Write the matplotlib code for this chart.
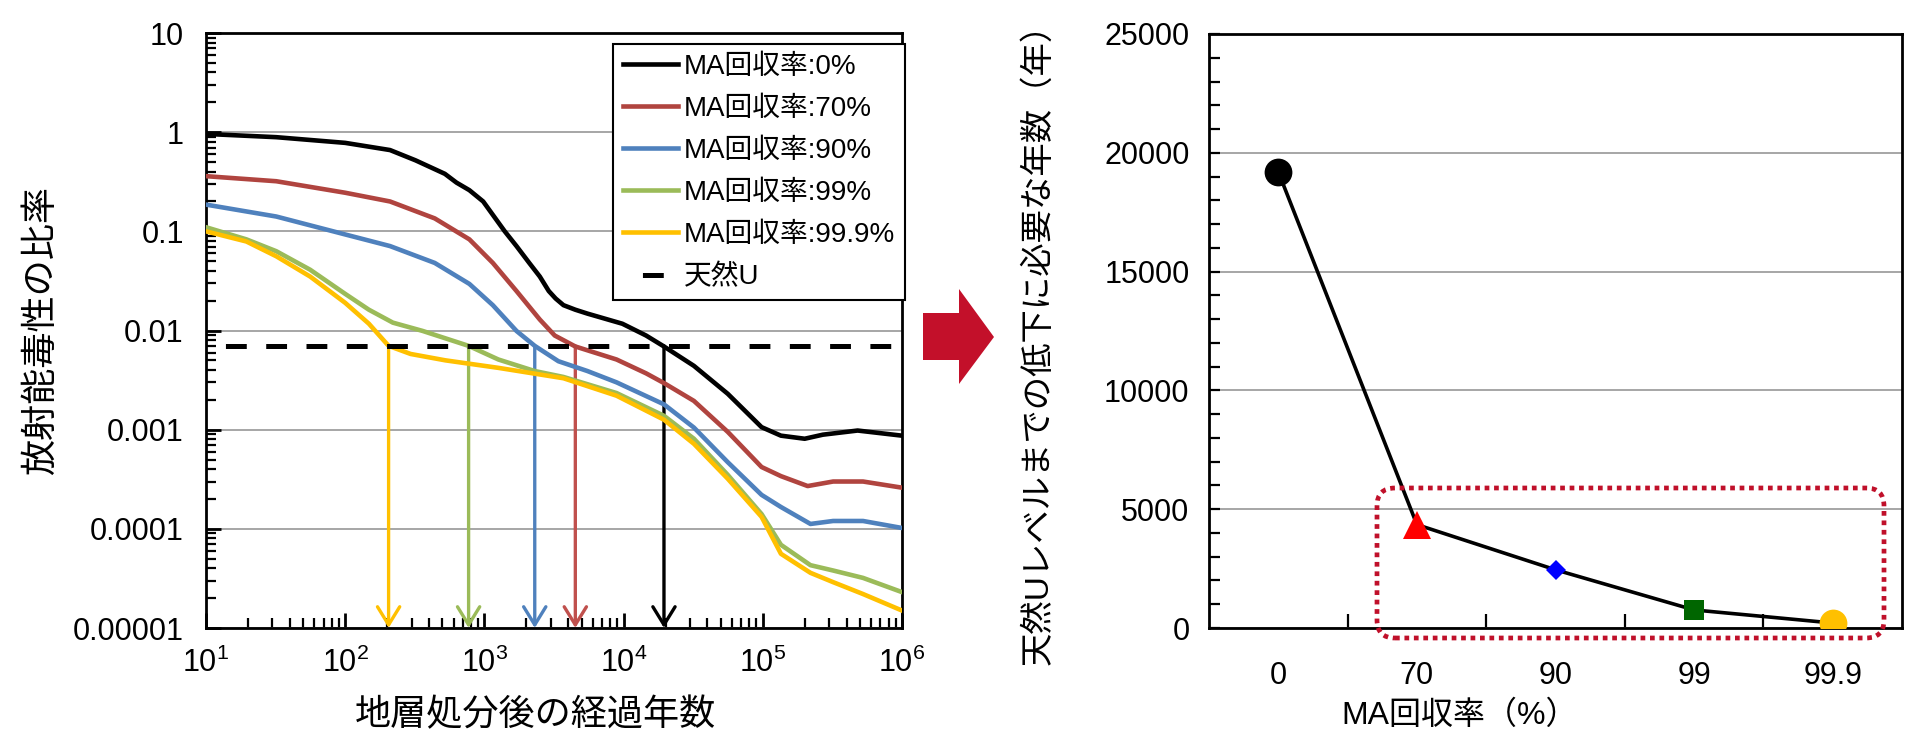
"""MA回収率ごとの放射能毒性の比率（左）と、天然Uレベルまでの年数（右）。"""
import matplotlib
matplotlib.use("Agg")
import matplotlib.pyplot as plt
from matplotlib.patches import Polygon, FancyBboxPatch
from matplotlib.transforms import IdentityTransform
from matplotlib.ticker import FixedLocator, MultipleLocator, LogLocator, NullFormatter

plt.rcParams["font.family"] = ["Liberation Sans", "Noto Sans CJK JP"]
plt.rcParams["mathtext.fontset"] = "custom"
plt.rcParams["mathtext.rm"] = "Liberation Sans"
plt.rcParams["mathtext.it"] = "Liberation Sans:italic"
plt.rcParams["lines.scale_dashes"] = False

# ---- 左: 放射能毒性の比率 (経過年数, 比率) ----
series_labels = ["MA回収率:0%", "MA回収率:70%", "MA回収率:90%", "MA回収率:99%", "MA回収率:99.9%"]
series_colors = ["#000000", "#B0443F", "#4F81BD", "#9BBB59", "#FFC000"]
arrow_colors = ["#000000", "#C0504D", "#4F81BD", "#9BBB59", "#FFC000"]

years_0 = [10, 32, 100, 210, 320, 520, 630, 780, 980, 1400, 1700, 2100, 2500, 2900, 3250,
           3700, 4500, 5500, 9800, 14500, 19500, 32000, 56000, 98000, 135000, 200000,
           270000, 480000, 1000000]
ratio_0 = [0.96, 0.89, 0.78, 0.66, 0.52, 0.38, 0.31, 0.26, 0.20, 0.10, 0.071, 0.048, 0.035,
           0.025, 0.021, 0.018, 0.0162, 0.0148, 0.0117, 0.0089, 0.0069, 0.0044, 0.0023,
           0.00106, 0.00087, 0.00081, 0.00089, 0.00098, 0.00087]

years_70 = [10, 32, 100, 210, 440, 780, 1150, 1700, 2500, 3200, 4500, 8900, 14500, 19500,
            32000, 56000, 98000, 135000, 210000, 320000, 525000, 1000000]
ratio_70 = [0.36, 0.32, 0.245, 0.20, 0.135, 0.083, 0.048, 0.025, 0.0129, 0.0089, 0.0069,
            0.0051, 0.0037, 0.00295, 0.00195, 0.00095, 0.00042, 0.00034, 0.00027, 0.0003,
            0.0003, 0.00026]

years_90 = [10, 32, 100, 210, 440, 780, 1150, 1700, 2300, 3400, 5500, 8900, 19500, 32000,
            56000, 98000, 135000, 220000, 320000, 525000, 1000000]
ratio_90 = [0.186, 0.141, 0.093, 0.071, 0.048, 0.0295, 0.018, 0.0099, 0.0070, 0.0049,
            0.0039, 0.0030, 0.0018, 0.00105, 0.00047, 0.00022, 0.000166, 0.000112,
            0.00012, 0.00012, 0.000102]

years_99 = [10, 19.5, 32, 56, 100, 148, 220, 360, 770, 1260, 2300, 3700, 8900, 19500, 32000,
            56000, 98000, 135000, 220000, 320000, 525000, 1000000]
ratio_99 = [0.11, 0.083, 0.063, 0.041, 0.0234, 0.0162, 0.012, 0.0099, 0.0070, 0.0051,
            0.0039, 0.0034, 0.00234, 0.00138, 0.00081, 0.00035, 0.000141, 0.000069,
            0.000043, 0.000038, 0.000032, 0.000023]

years_999 = [10, 19.5, 32, 56, 100, 148, 205, 295, 525, 1260, 3700, 8900, 19500, 32000,
             56000, 98000, 135000, 220000, 320000, 525000, 1000000]
ratio_999 = [0.10, 0.079, 0.056, 0.035, 0.019, 0.0117, 0.0070, 0.0058, 0.0050, 0.0042,
             0.0033, 0.0022, 0.00126, 0.00072, 0.00032, 0.000132, 0.000056, 0.000036,
             0.000029, 0.000022, 0.000015]

natural_u = 0.007
arrow_years = [19500, 4500, 2300, 770, 205]

# ---- 右: 天然Uレベルまでの低下に必要な年数 ----
recovery_labels = ["0", "70", "90", "99", "99.9"]
years_to_u = [19200, 4350, 2450, 760, 210]
marker_styles = ["o", "^", "D", "s", "o"]
marker_colors = ["#000000", "#FF0000", "#0000FF", "#006600", "#FFC000"]
marker_sizes = [20, 20, 10, 14, 20]

W, H = 1905, 736
fig = plt.figure(figsize=(W / 100, H / 100), dpi=100)


def fx(px):
    return px / W


def fy(py):
    return 1 - py / H


# ---------------- left chart ----------------
ax1 = fig.add_axes([fx(206), fy(628), fx(902 - 206), (628 - 33) / H])
ax1.set_xscale("log")
ax1.set_yscale("log")

all_years = [years_0, years_70, years_90, years_99, years_999]
all_ratio = [ratio_0, ratio_70, ratio_90, ratio_99, ratio_999]
for xs, ys, c, lab in zip(all_years, all_ratio, series_colors, series_labels):
    ax1.plot(xs, ys, color=c, lw=3.3, label=lab, solid_joinstyle="round", zorder=3)

ax1.plot([10, 1e6], [natural_u, natural_u], color="black", lw=3.6,
         linestyle=(15, (15, 14)), dash_capstyle="butt", label="天然U", zorder=4)

for xa, c in zip(arrow_years, arrow_colors):
    ax1.annotate("", xy=(xa, 1e-5), xytext=(xa, natural_u),
                 arrowprops=dict(arrowstyle="->,head_length=0.65,head_width=0.4",
                                 color=c, lw=2.4, shrinkA=0, shrinkB=0,
                                 mutation_scale=20), zorder=2)

ax1.set_xlim(10, 1e6)
ax1.set_ylim(1e-5, 10)
ax1.set_yticks([1e-5, 1e-4, 1e-3, 1e-2, 1e-1, 1, 10])
ax1.set_yticklabels(["0.00001", "0.0001", "0.001", "0.01", "0.1", "1", "10"])
ax1.set_xticks([10, 1e2, 1e3, 1e4, 1e5, 1e6])
ax1.set_xticklabels([r"$10^{1}$", r"$10^{2}$", r"$10^{3}$", r"$10^{4}$", r"$10^{5}$", r"$10^{6}$"])
ax1.xaxis.set_minor_locator(LogLocator(base=10, subs=range(2, 10), numticks=20))
ax1.yaxis.set_minor_locator(LogLocator(base=10, subs=range(2, 10), numticks=20))
ax1.xaxis.set_minor_formatter(NullFormatter())
ax1.yaxis.set_minor_formatter(NullFormatter())
ax1.tick_params(which="major", direction="in", length=11, width=2, labelsize=22)
ax1.tick_params(which="minor", direction="in", length=7, width=1.6)
ax1.tick_params(axis="y", pad=16)
ax1.tick_params(axis="x", pad=14)
ax1.grid(axis="y", which="major", color="#A6A6A6", lw=1.4, zorder=0)
for s in ax1.spines.values():
    s.set_linewidth(2)
ax1.set_xlabel("地層処分後の経過年数", fontsize=26, va="center")
ax1.xaxis.set_label_coords(0.473, -0.148)
ax1.set_ylabel("放射能毒性の比率", fontsize=26, labelpad=10)

leg = ax1.legend(loc="upper right", bbox_to_anchor=(fx(905), fy(44)),
                 bbox_transform=fig.transFigure, fontsize=20, frameon=True,
                 fancybox=False, edgecolor="black", framealpha=1,
                 handlelength=2.0, handletextpad=0.2, labelspacing=0.58,
                 borderpad=0.35, borderaxespad=0)
leg.get_frame().set_linewidth(1.5)
leg.set_zorder(10)

# ---------------- arrow between charts ----------------
arrow_pts = [(923, 313), (959, 313), (959, 289), (994, 337), (959, 384), (959, 360), (923, 360)]
fig.patches.append(Polygon([(fx(x), fy(y)) for x, y in arrow_pts], closed=True,
                           transform=fig.transFigure, facecolor="#C3102A",
                           edgecolor="none"))

# ---------------- right chart ----------------
ax2 = fig.add_axes([fx(1209), fy(628), fx(1902 - 1209), (628 - 34) / H])
pos = list(range(len(recovery_labels)))
ax2.plot(pos, years_to_u, color="black", lw=2.6, zorder=3)
for p, v, m, c, ms in zip(pos, years_to_u, marker_styles, marker_colors, marker_sizes):
    ax2.plot(p, v, marker=m, color=c, markersize=ms, markeredgewidth=0, zorder=4)

ax2.set_xlim(-0.5, len(pos) - 0.5)
ax2.set_ylim(0, 25000)
ax2.set_yticks(range(0, 25001, 5000))
ax2.yaxis.set_minor_locator(MultipleLocator(1000))
ax2.set_xticks(pos)
ax2.set_xticklabels(recovery_labels)
ax2.xaxis.set_minor_locator(FixedLocator([p + 0.5 for p in pos[:-1]]))
ax2.tick_params(axis="x", which="major", length=0, pad=24, labelsize=22)
ax2.tick_params(axis="x", which="minor", direction="in", length=10, width=1.6)
ax2.tick_params(axis="y", which="both", direction="in", length=8, width=1.6,
                labelsize=22, pad=14)
ax2.grid(axis="y", which="major", color="#A6A6A6", lw=1.4, zorder=0)
for s in ax2.spines.values():
    s.set_linewidth(2)
ax2.set_xlabel("MA回収率（%）", fontsize=23, va="center")
ax2.xaxis.set_label_coords(0.362, -0.148)
ax2.set_ylabel("天然Uレベルまでの低下に必要な年数（年）", fontsize=24)
ax2.yaxis.set_label_coords(-0.223, 0.4916)

# 点線の角丸枠（ピクセル座標）
box = FancyBboxPatch((1377, H - 638), 1884 - 1377, 638 - 488,
                     boxstyle="round,pad=0,rounding_size=18",
                     transform=IdentityTransform(), facecolor="none",
                     edgecolor="#C0102A", lw=3.4, linestyle=(0, (3.4, 3.4)),
                     zorder=5)
fig.patches.append(box)

fig.savefig("out.png", dpi=100)
